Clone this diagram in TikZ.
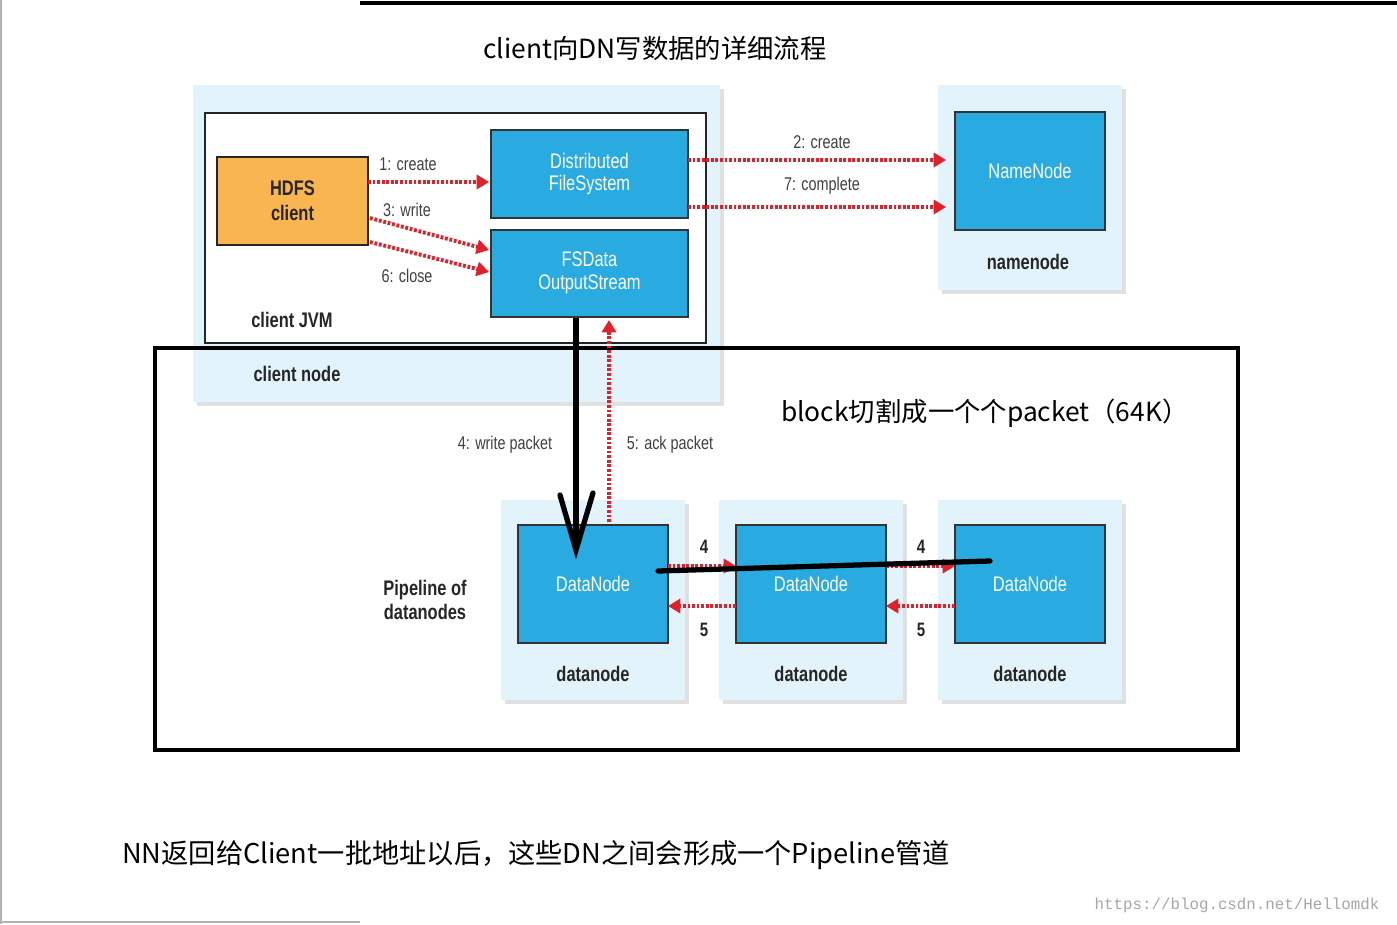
\documentclass[tikz,border=0pt]{standalone}
\usepackage{fontspec}
\setmainfont{Liberation Sans}
\newfontfamily\cond[FakeStretch=0.78]{Liberation Sans}
\newfontfamily\cjk{Noto Sans CJK SC}
\newfontfamily\mono{Liberation Mono}
\usetikzlibrary{arrows.meta}
\definecolor{lb}{HTML}{E3F3FB}
\definecolor{bb}{HTML}{29ABE2}
\definecolor{ob}{HTML}{F9B550}
\definecolor{rd}{HTML}{E0202A}
\begin{document}
\begin{tikzpicture}[x=0.02cm,y=-0.02cm,
  blue/.style={fill=bb,draw=black!80,line width=1.5pt,text=white,font=\cond\fontsize{12}{13}\selectfont,align=center},
  lbl/.style={font=\cond\bfseries\fontsize{12}{13}\selectfont,text=black!85},
  small/.style={font=\cond\fontsize{10.5}{12}\selectfont,text=black!75},
  rarr/.style={draw=rd,line width=2.2pt,dash pattern=on 1.6pt off 1pt,-{Triangle[length=7pt,width=8pt]}}]
\useasboundingbox (0,0) rectangle (1397,924);
\fill[white] (0,0) rectangle (1397,924);
\draw[black,line width=2pt] (360,3) -- (1397,3);
\draw[gray!60,line width=0.8pt] (1,0) -- (1,924);
\draw[gray!60,line width=1pt] (0,922) -- (360,922);
\node[font=\cjk\fontsize{15}{17}\selectfont] (title) at (655,48) {client向DN写数据的详细流程};
% client node
\fill[black!12] (197,89) rectangle (724,406);
\fill[lb] (193,85) rectangle (720,402);
\draw[black!85,line width=1.5pt,fill=white] (205,113) rectangle (706,343);
\node[lbl] (cjvm) at (292,320) {client JVM};
\node[lbl] (cnode) at (297,374) {client node};
\draw[black!85,line width=1.5pt,fill=ob] (217,157) rectangle (368,245);
\node[font=\cond\bfseries\fontsize{12}{14}\selectfont,align=center,text=black!85] (hc) at (292.5,201) {HDFS\\client};
\draw[blue] (491,130) rectangle (688,218);
\node[blue,draw=none,fill=none] (dfs) at (589.5,174) {Distributed\\FileSystem};
\draw[blue] (491,230) rectangle (688,317);
\node[blue,draw=none,fill=none] (fsd) at (589.5,273) {FSData\\OutputStream};
% namenode
\fill[black!12] (942,89) rectangle (1126,294);
\fill[lb] (938,85) rectangle (1122,290);
\draw[blue] (955,112) rectangle (1105,230);
\node[blue,draw=none,fill=none] (nn) at (1030,171) {NameNode};
\node[lbl] (nnl) at (1028,262) {namenode};
% datanodes
\foreach \x/\n in {501/a,719/b,938/c}{
  \fill[black!12] (\x+4,504) rectangle (\x+188,704);
  \fill[lb] (\x,500) rectangle (\x+184,700);
  \draw[blue] (\x+17,525) rectangle (\x+167,643);
  \node[blue,draw=none,fill=none] (dn\n) at (\x+92,584) {DataNode};
  \node[lbl] (dl\n) at (\x+92,674) {datanode};
}
% big rect
\draw[black,line width=2.8pt] (155,348) rectangle (1238,750);
% red arrows
\coordinate (h1) at (368,182); \coordinate (d1) at (489,182);
\coordinate (h2) at (370,218); \coordinate (f2) at (489,250);
\coordinate (h3) at (370,242); \coordinate (f3) at (489,272);
\draw[rarr] (h1) -- (d1);
\draw[rarr] (h2) -- (f2);
\draw[rarr] (h3) -- (f3);
\node[small] at (408,164) {1: create};
\node[small] at (407,210) {3: write};
\node[small] at (407,276) {6: close};
\coordinate (a2) at (688,160); \coordinate (n2) at (946,160);
\coordinate (a7) at (688,207); \coordinate (n7) at (946,207);
\draw[rarr] (a2) -- (n2);
\draw[rarr] (a7) -- (n7);
\node[small] at (822,142) {2: create};
\node[small] at (822,186) {7: complete};
\coordinate (ak1) at (609,522); \coordinate (ak2) at (609,320);
\draw[rarr] (ak1) -- (ak2);
\node[small] at (505,445) {4: write packet};
\node[small] at (670,445) {5: ack packet};
\draw[rarr] (668,566) -- (736,566);
\draw[rarr] (736,606) -- (668,606);
\draw[rarr] (886,566) -- (955,566);
\draw[rarr] (955,606) -- (886,606);
\foreach \x in {704,921}{
  \node[font=\cond\bfseries\fontsize{11}{12}\selectfont,text=black!85] at (\x,547) {4};
  \node[font=\cond\bfseries\fontsize{11}{12}\selectfont,text=black!85] at (\x,630) {5};
}
\node[font=\cond\bfseries\fontsize{12}{14}\selectfont,align=center,text=black!85] (pipe) at (425,600) {Pipeline of\\datanodes};
% black hand-drawn arrow and line
\coordinate (b1) at (576,318); \coordinate (b2) at (576,550);
\draw[black,line width=3pt] (b1) -- (b2);
\draw[black,line width=3pt,line cap=round] (560,495) -- (576,550) -- (593,493);
\draw[black,line width=3pt,line cap=round] (658,571) -- (990,561);
\node[font=\cjk\fontsize{15}{17}\selectfont,anchor=west] at (775,413) {block切割成一个个packet（64K）};
\node[font=\cjk\fontsize{15.5}{17}\selectfont,anchor=west] at (116,855) {NN返回给Client一批地址以后，这些DN之间会形成一个Pipeline管道};
\node[font=\mono\fontsize{9}{10}\selectfont,text=black!35] at (1237,905) {https://blog.csdn.net/Hellomdk};
\end{tikzpicture}
\end{document}
